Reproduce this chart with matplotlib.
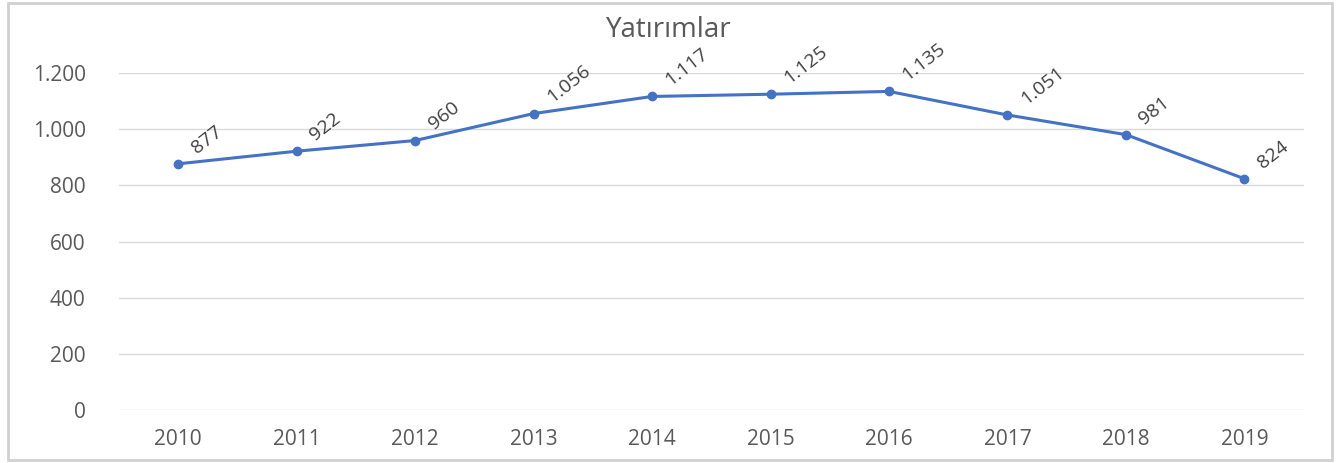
import matplotlib.pyplot as plt
import matplotlib.ticker as mticker

# yatirimlar verisi
years = ["2010", "2011", "2012", "2013", "2014", "2015", "2016", "2017", "2018", "2019"]
values = [877, 922, 960, 1056, 1117, 1125, 1135, 1051, 981, 824]

plt.rcParams['font.family'] = ['Open Sans', 'DejaVu Sans']
txt = "#595959"

fig = plt.figure(figsize=(13.37, 4.63), dpi=100)
ax = fig.add_axes([0.089, 0.1145, 0.886, 0.7275])

x = range(len(years))
ax.plot(x, values, color="#4472C4", lw=2.2, marker="o", ms=6, zorder=3)

def tr(v):
    return f"{v:,}".replace(",", ".")

for i, v in zip(x, values):
    ax.annotate(tr(v), (i, v), xytext=(15, 5), textcoords="offset points",
                ha="left", va="bottom", rotation=38, rotation_mode="anchor",
                fontsize=14, color="#404040", annotation_clip=False)

ax.set_xlim(-0.5, len(years) - 0.5)
ax.set_ylim(0, 1200)
ax.set_yticks(range(0, 1201, 200))
ax.yaxis.set_major_formatter(mticker.FuncFormatter(lambda v, p: tr(int(v))))
ax.set_xticks(list(x))
ax.set_xticklabels(years)
ax.grid(axis="y", color="#d9d9d9", lw=1)
ax.set_axisbelow(True)
for s in ax.spines.values():
    s.set_visible(False)
ax.tick_params(length=0, labelsize=15, colors=txt, pad=14)
ax.tick_params(axis="y", pad=24)

fig.text(0.5, 0.935, "Yatırımlar", ha="center", va="center", fontsize=20, color=txt)

# cerceve
fig.patches.append(plt.Rectangle((0.006, 0.006), 0.99, 0.988, transform=fig.transFigure,
                                 fill=False, ec="#d0d0d0", lw=2))

fig.savefig("out.png", dpi=100)
